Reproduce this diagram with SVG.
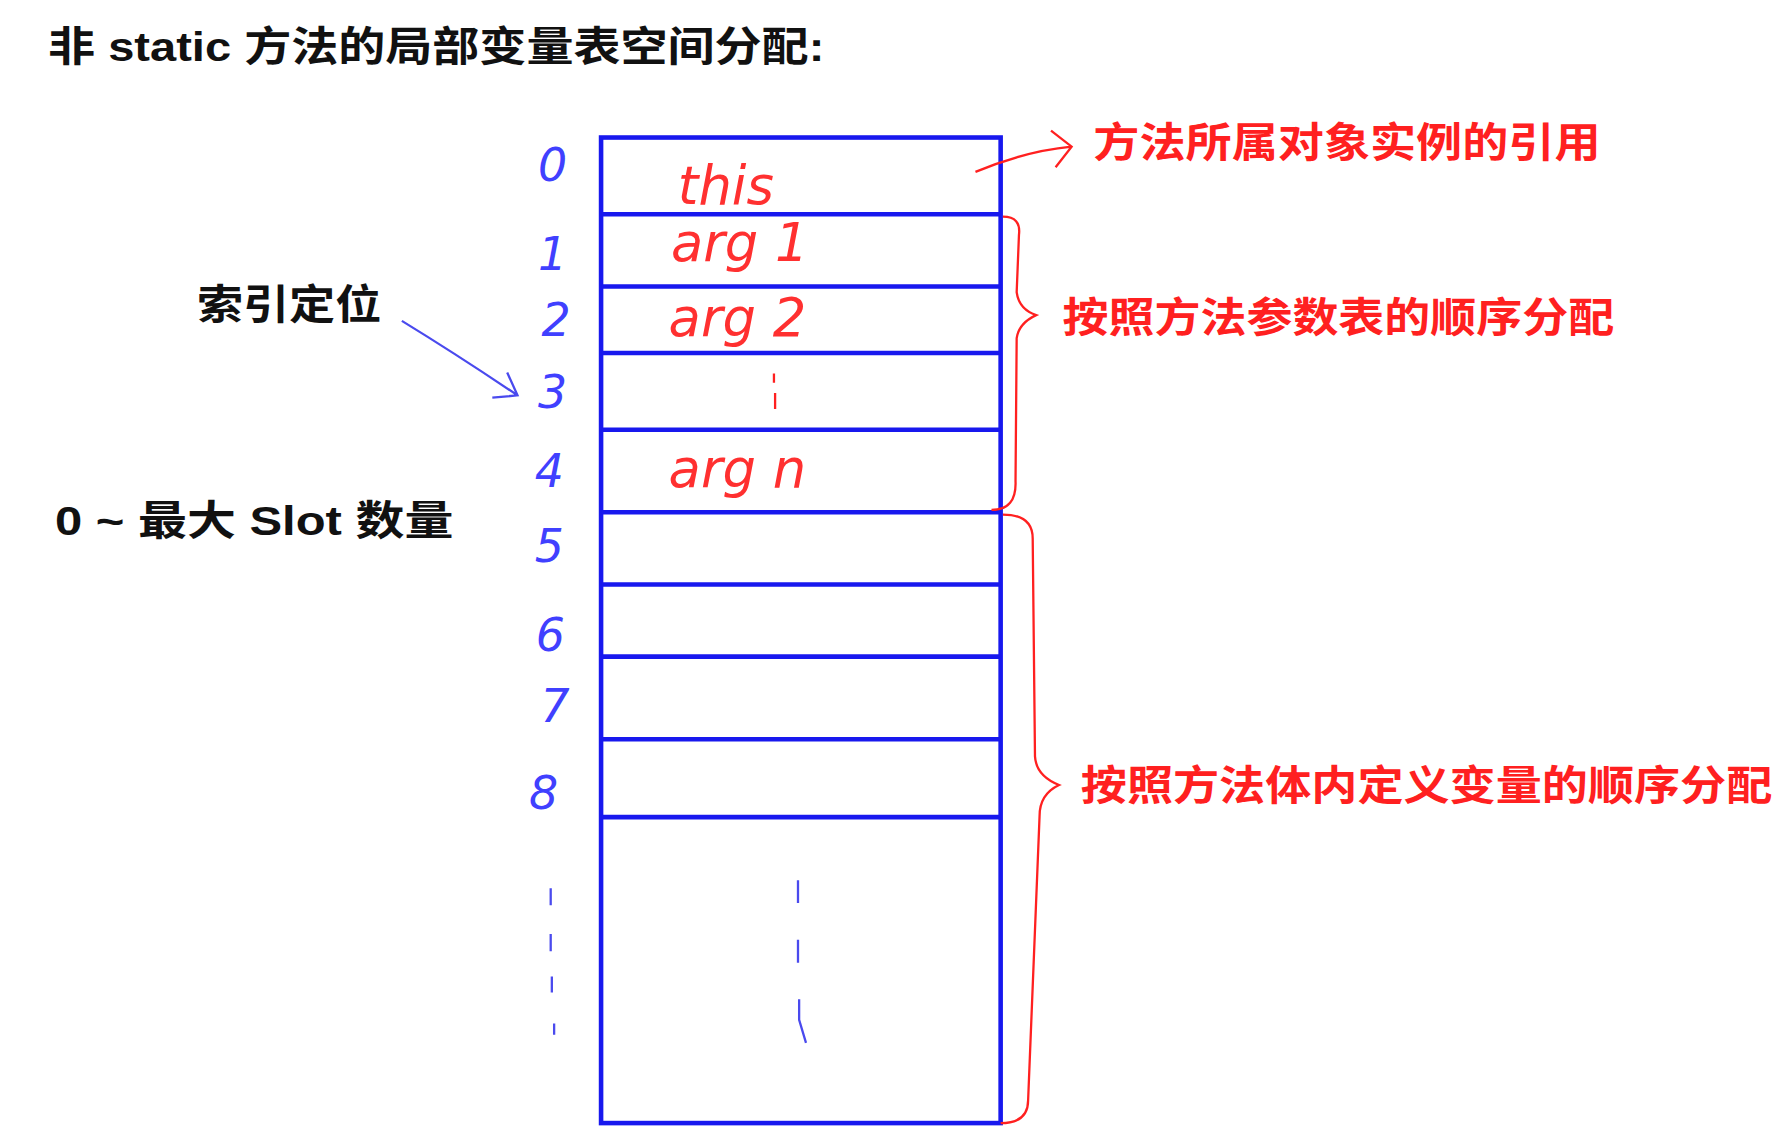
<svg xmlns="http://www.w3.org/2000/svg" width="1786" height="1146" viewBox="0 0 1786 1146">
<style>
.t{font-family:"Liberation Sans","Noto Sans CJK SC",sans-serif;font-weight:bold;font-size:36px}
.r{fill:#ff2020}
.k{fill:#111}
.n{font-family:"DejaVu Sans","Liberation Sans",sans-serif;fill:#4040ff;font-size:40px;font-style:italic;font-weight:200}
.h{font-family:"DejaVu Sans",sans-serif;fill:#ff3030;font-size:46px;font-style:italic;font-weight:200}
.b{stroke:#1818ee;stroke-width:4;fill:none}
.rl{stroke:#ff2020;stroke-width:2;fill:none}
.bl{stroke:#4a4aee;stroke-width:2;fill:none}
</style>
<rect width="1786" height="1146" fill="#fff"/>
<g transform="scale(1.1449 1.146)">
<g id="title"><text class="t k" x="42" y="53" textLength="678" lengthAdjust="spacingAndGlyphs">非 static 方法的局部变量表空间分配:</text></g>
<g id="table">
<rect class="b" x="525" y="120" width="349" height="860"/>
<path class="b" d="M525 187H874M525 250H874M525 308H874M525 375H874M525 447H874M525 510H874M525 573H874M525 645H874M525 713H874"/>
<text class="h" x="592" y="178">this</text>
<text class="h" x="586" y="228">arg 1</text>
<text class="h" x="584" y="293">arg 2</text>
<path class="rl" d="M676 326v8M677 343v14"/>
<text class="h" x="584" y="425">arg n</text>
<path class="bl" d="M697 768v20M697 820v20M698 872v18l6 20"/>
</g>
<g id="indices">
<text class="n" x="470" y="158">0</text>
<text class="n" x="470" y="236">1</text>
<text class="n" x="473" y="293">2</text>
<text class="n" x="470" y="356">3</text>
<text class="n" x="467" y="425">4</text>
<text class="n" x="467" y="490">5</text>
<text class="n" x="468" y="568">6</text>
<text class="n" x="472" y="630">7</text>
<text class="n" x="462" y="706">8</text>
<path class="bl" d="M481 775v15M481 815v15M482 852v14M484 893v10"/>
</g>
<g id="labels">
<text class="t k" x="172" y="278" textLength="161" lengthAdjust="spacingAndGlyphs">索引定位</text>
<text class="t k" x="48" y="467" textLength="348" lengthAdjust="spacingAndGlyphs">0 ~ 最大 Slot 数量</text>
<text class="t r" x="955" y="137" textLength="443" lengthAdjust="spacingAndGlyphs">方法所属对象实例的引用</text>
<text class="t r" x="928" y="290" textLength="482" lengthAdjust="spacingAndGlyphs">按照方法参数表的顺序分配</text>
<text class="t r" x="944" y="698" textLength="604" lengthAdjust="spacingAndGlyphs">按照方法体内定义变量的顺序分配</text>
</g>
<g id="connectors">
<path class="bl" d="M351 280Q400 310 452 345M430 347L452 345L443 325"/>
<path class="rl" d="M852 150Q895 132 936 128M918 114L936 128L922 146"/>
<path class="rl" d="M876 189Q892 189 890 205L888 255Q890 270 905 275Q890 282 888 295L887 420Q888 445 866 445"/>
<path class="rl" d="M876 449Q902 449 902 470L904 660Q905 677 925 685Q908 693 908 712L898 960Q898 980 874 980"/>
</g>
</g>
</svg>
